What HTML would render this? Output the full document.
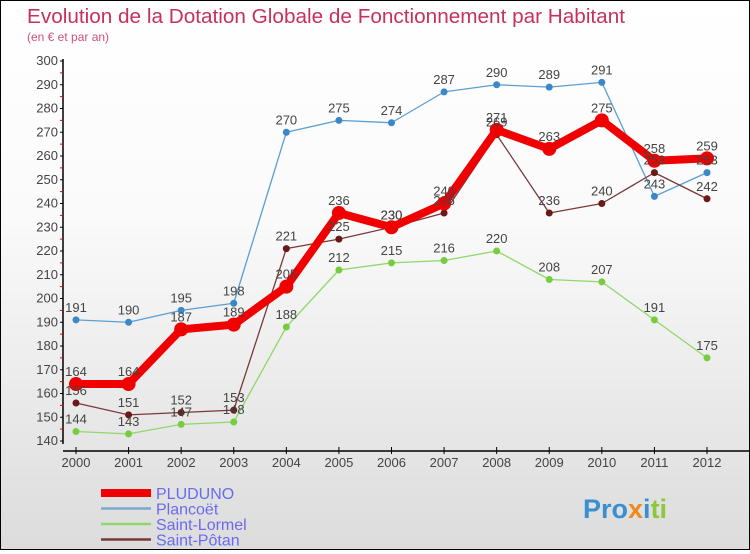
<!DOCTYPE html>
<html><head><meta charset="utf-8"><style>
html,body{margin:0;padding:0}
body{width:750px;height:550px;overflow:hidden;font-family:"Liberation Sans",sans-serif}
#wrap{position:absolute;left:0;top:0;width:748px;height:548px;border:1px solid #000;background:linear-gradient(#fff,#fafafa 40%,#dcdcdc)}
</style></head><body>
<div id="wrap">
<svg id="c" width="748" height="548" xmlns="http://www.w3.org/2000/svg">
<text x="26" y="22" font-size="20" fill="#c8305c" font-family="Liberation Sans, sans-serif" textLength="598" lengthAdjust="spacingAndGlyphs">Evolution de la Dotation Globale de Fonctionnement par Habitant</text>
<text x="26" y="40" font-size="12" fill="#d0507a">(en € et par an)</text>
<g id="axes"></g><g id="series"></g><g id="legend"></g>
<text x="582" y="517" font-size="27" font-weight="bold"><tspan fill="#3a8fd0">Pro</tspan><tspan fill="#f08a20">x</tspan><tspan fill="#3a8fd0">i</tspan><tspan fill="#8cc83c">ti</tspan></text>
</svg></div>
<script>
const years=[2000,2001,2002,2003,2004,2005,2006,2007,2008,2009,2010,2011,2012];
const yTicks=[140,150,160,170,180,190,200,210,220,230,240,250,260,270,280,290,300];
const seriesNames=["PLUDUNO","Plancoët","Saint-Lormel","Saint-Pôtan"];
const pluduno=[164,164,187,189,205,236,230,240,271,263,275,258,259];
const plancoet=[191,190,195,198,270,275,274,287,290,289,291,243,253];
const saintLormel=[144,143,147,148,188,212,215,216,220,208,207,191,175];
const saintPotan=[156,151,152,153,221,225,230,236,269,236,240,253,242];
const NS="http://www.w3.org/2000/svg";
const X=i=>75+i*(631/12);
const Y=v=>440-(v-140)*2.375;
function mk(tag,at,parent){const e=document.createElementNS(NS,tag);for(const k in at)e.setAttribute(k,at[k]);parent.appendChild(e);return e;}
const ax=document.getElementById('axes');
let l=mk('line',{x1:62,y1:58,x2:62,y2:443,stroke:'#000','stroke-width':1.5},ax);


l=mk('line',{x1:62,y1:450,x2:748,y2:450,stroke:'#000','stroke-width':1.5},ax);


yTicks.forEach((v,i)=>{
  mk('line',{x1:59,y1:Y(v),x2:62,y2:Y(v),stroke:'#000'},ax);
  if(i<yTicks.length-1) mk('line',{x1:59,y1:Y(v+5),x2:62,y2:Y(v+5),stroke:'#e00'},ax);
  const t=mk('text',{x:57,y:Y(v)+4,'font-size':13,'text-anchor':'end',fill:'#444'},ax);t.textContent=v;
  
  
});
years.forEach((yr,i)=>{
  mk('line',{x1:X(i),y1:446,x2:X(i),y2:453,stroke:'#000'},ax);
  const t=mk('text',{x:X(i),y:466,'font-size':13,'text-anchor':'middle',fill:'#444'},ax);t.textContent=yr;
  
  
});
const sg=document.getElementById('series');
const defs=[
 {d:plancoet,c:'#5a9fd4',dot:'#3a88c8',w:1.3,r:3.5,n:'plancoet'},
 {d:saintLormel,c:'#8fd86a',dot:'#78cc40',w:1.3,r:3.5,n:'saint-lormel'},
 {d:saintPotan,c:'#7a3838',dot:'#6a1818',w:1.3,r:3.5,n:'saint-potan'},
 {d:pluduno,c:'#f00000',dot:'#f00000',w:8,r:7,n:'pluduno'}];
defs.forEach(s=>{
  const p=mk('polyline',{points:s.d.map((v,i)=>X(i)+','+Y(v)).join(' '),fill:'none',stroke:s.c,'stroke-width':s.w,'stroke-linejoin':'round'},sg);
  
  
  s.d.forEach((v,i)=>{
    const c=mk('circle',{cx:X(i),cy:Y(v),r:s.r,fill:s.dot},sg);
    
    
  });
});
defs.forEach(s=>{s.d.forEach((v,i)=>{
  const t=mk('text',{x:X(i),y:Y(v)-8,'font-size':13,'text-anchor':'middle',fill:'#444'},sg);t.textContent=v;
  
  
});});
const lg=document.getElementById('legend');
const lc=['#f00000','#7aaad0','#8fd86a','#7a3838'],lw=[8,2.5,2.5,2.5];
seriesNames.forEach((n,i)=>{
  const y=492+i*15.5;
  const g=mk('g',{},lg);
  
  
  mk('line',{x1:100,y1:y,x2:150,y2:y,stroke:lc[i],'stroke-width':lw[i]},g);
  const t=mk('text',{x:155,y:y+6,'font-size':16,fill:'#6a6af0'},g);t.textContent=n;
});
</script>
</body></html>
